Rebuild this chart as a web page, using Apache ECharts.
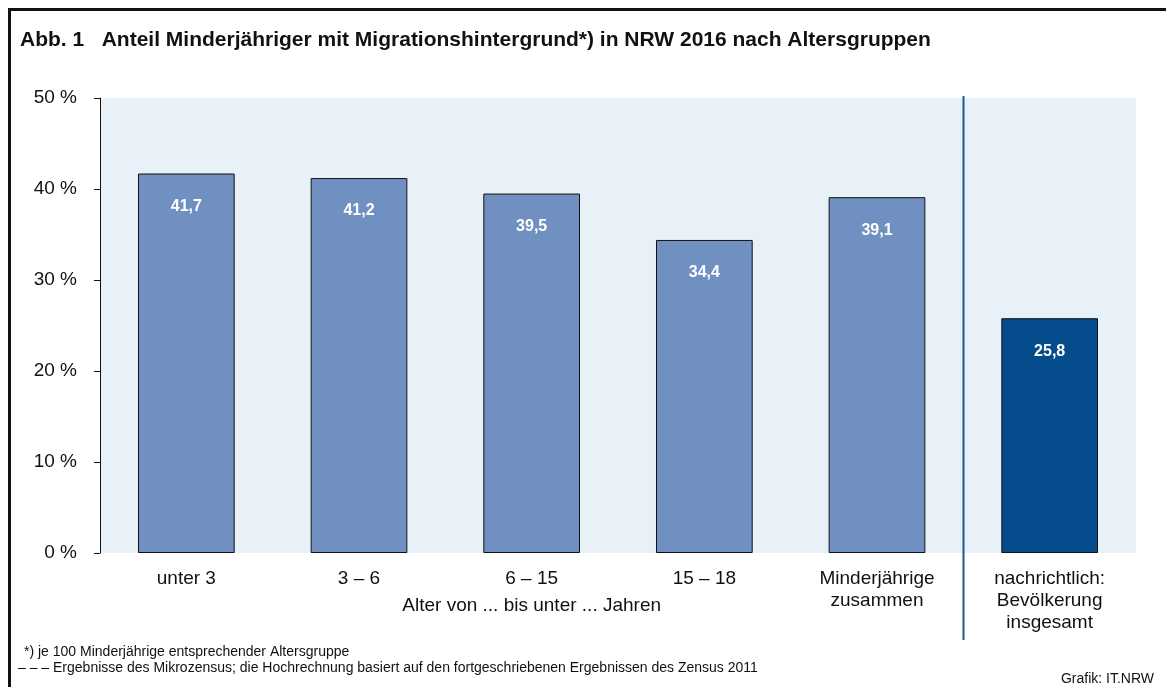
<!DOCTYPE html>
<html>
<head>
<meta charset="utf-8">
<script src="https://cdn.jsdelivr.net/npm/echarts@6/dist/echarts.min.js"></script>
<style>
  html, body { margin: 0; padding: 0; background: #fff; }
  #main { width: 1166px; height: 687px; }
</style>
</head>
<body>
<div id="main"></div>
<script>
// Daten
var categories = ['unter 3', '3 – 6', '6 – 15', '15 – 18', 'Minderjährige\nzusammen', 'nachrichtlich:\nBevölkerung\ninsgesamt'];
var values = [41.7, 41.2, 39.5, 34.4, 39.1, 25.8];
var yTicks = [0, 10, 20, 30, 40, 50];

var font = 'Liberation Sans, Arial, sans-serif';
var light = '#7190c2';
var dark = '#054c8d';

var chart = echarts.init(document.getElementById('main'));

chart.setOption({
  backgroundColor: '#fff',
  textStyle: { fontFamily: font },
  grid: {
    left: 100, right: 30, top: 98, bottom: 134,
    show: true, backgroundColor: '#e8f0f8', borderWidth: 0
  },
  xAxis: {
    type: 'category',
    data: categories,
    axisLine: { show: false },
    axisTick: { show: false },
    axisLabel: { color: '#111', fontSize: 19, lineHeight: 22, margin: 15, fontFamily: font }
  },
  yAxis: {
    type: 'value',
    min: yTicks[0], max: yTicks[yTicks.length - 1], interval: 10,
    splitLine: { show: false },
    axisLine: { show: true, lineStyle: { color: '#111', width: 1 } },
    axisTick: { show: true, length: 6, lineStyle: { color: '#111' } },
    axisLabel: { color: '#111', fontSize: 19, margin: 23, fontFamily: font, formatter: '{value} %' }
  },
  series: [{
    type: 'bar',
    barWidth: '56%',
    data: values.map(function (v, i) {
      return { value: v, itemStyle: { color: i === values.length - 1 ? dark : light } };
    }),
    itemStyle: { borderColor: '#111', borderWidth: 1 },
    label: {
      show: true, position: 'insideTop', distance: 25,
      color: '#fff', fontWeight: 'bold', fontSize: 16, fontFamily: font,
      formatter: function (p) { return p.value.toFixed(1).replace('.', ','); }
    }
  }]
});

// Trennlinie zwischen Minderjährigen und Gesamtbevölkerung
var xa = chart.convertToPixel({ xAxisIndex: 0 }, 4);
var xb = chart.convertToPixel({ xAxisIndex: 0 }, 5);
var sepX = Math.round((xa + xb) / 2) + 0.5;
var groupX = (chart.convertToPixel({ xAxisIndex: 0 }, 0) + xa) / 2;

chart.setOption({
  graphic: [
    { type: 'rect', shape: { x: 9.5, y: 9.5, width: 1300, height: 800 }, style: { fill: null, stroke: '#111', lineWidth: 3 }, z: 100 },
    { type: 'text', left: 20, top: 30, style: { text: 'Abb. 1   Anteil Minderjähriger mit Migrationshintergrund*) in NRW 2016 nach Altersgruppen', font: 'bold 21px ' + font, fill: '#111' } },
    { type: 'line', shape: { x1: sepX, y1: 96, x2: sepX, y2: 640 }, style: { stroke: '#1a5896', lineWidth: 2 }, z: 50 },
    { type: 'text', x: groupX, y: 596, style: { text: 'Alter von ... bis unter ... Jahren', font: '19px ' + font, fill: '#111', textAlign: 'center' } },
    { type: 'text', left: 24, top: 645, style: { text: '*) je 100 Minderjährige entsprechender Altersgruppe', font: '14px ' + font, fill: '#111' } },
    { type: 'text', left: 18, top: 661, style: { text: '– – – Ergebnisse des Mikrozensus; die Hochrechnung basiert auf den fortgeschriebenen Ergebnissen des Zensus 2011', font: '14px ' + font, fill: '#111' } },
    { type: 'text', right: 12, top: 672, style: { text: 'Grafik: IT.NRW', font: '14px ' + font, fill: '#111' } }
  ]
});
</script>
</body>
</html>
